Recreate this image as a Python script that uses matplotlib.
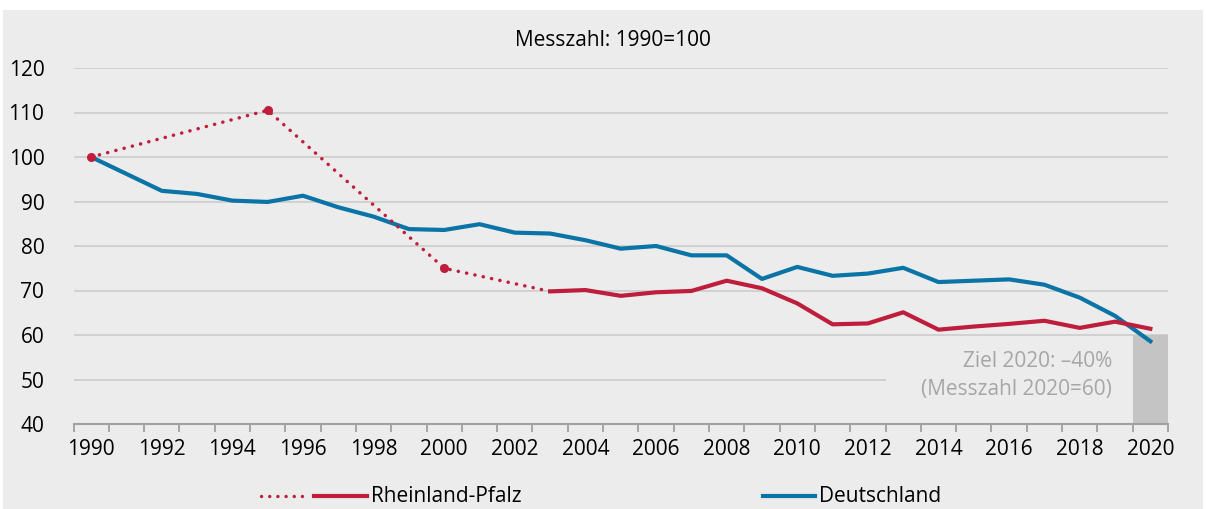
import matplotlib
matplotlib.use('Agg')
import matplotlib.pyplot as plt
from matplotlib.lines import Line2D
from matplotlib.patches import Rectangle

# Data (Messzahl 1990 = 100)
years = list(range(1990, 2021))
deutschland = [100.0, 96.2, 92.4, 91.7, 90.2, 89.9, 91.3, 88.7, 86.6, 83.8,
               83.6, 84.9, 83.0, 82.8, 81.3, 79.4, 80.0, 77.9, 77.9, 72.6,
               75.3, 73.3, 73.8, 75.1, 71.9, 72.2, 72.5, 71.3, 68.4, 64.3,
               58.6]
rlp_years = list(range(2003, 2021))
rlp = [69.8, 70.1, 68.8, 69.6, 69.9, 72.2, 70.5, 67.1, 62.4, 62.6,
       65.1, 61.2, 61.9, 62.5, 63.2, 61.6, 63.0, 61.4]
rlp_early_years = [1990, 1995, 2000, 2003]
rlp_early = [100.0, 110.5, 75.0, 69.8]
marker_years = [1990, 1995, 2000]
marker_vals = [100.0, 110.5, 75.0]
target_year = 2020
target_value = 60
y_floor = 40

red = '#be1e3c'
blue = '#0a74a6'
bg = '#ececec'
txt_gray = '#a6a6a6'
fs = 15
dotted = (0, (0.05, 2.4))

plt.rcParams['font.family'] = ['Open Sans', 'DejaVu Sans']

fig = plt.figure(figsize=(12.06, 5.09), dpi=100)
fig.patch.set_facecolor('white')
fig.add_artist(Rectangle((3 / 1206, 0), 1200 / 1206, 1 - 10 / 509,
                         transform=fig.transFigure, facecolor=bg,
                         edgecolor='none', zorder=-10))

ax = fig.add_axes([73.5 / 1206, 1 - 424 / 509, (1168 - 73.5) / 1206,
                   (424 - 68) / 509])
ax.set_facecolor(bg)

# target bar
ax.bar([target_year], [target_value - y_floor], bottom=y_floor, width=1.0,
       color='#c4c4c4', zorder=1)
# box hiding gridline behind text
ax.add_patch(Rectangle((2012.5, 41), 7.0, 17, facecolor=bg,
                       edgecolor='none', zorder=1.5))

ax.plot(years, deutschland, color=blue, lw=3.0, solid_joinstyle='round',
        zorder=3)
ax.plot(rlp_early_years, rlp_early, color=red, lw=2.5,
        linestyle=dotted, dash_capstyle='round', zorder=4)
ax.plot(marker_years, marker_vals, 'o', color=red, ms=5.5, zorder=5)
ax.plot(rlp_years, rlp, color=red, lw=3.0, solid_joinstyle='round',
        zorder=4)

ax.text(2018.92, 54.0, 'Ziel 2020: \u201340%', ha='right', va='center',
        color=txt_gray, fontsize=fs, zorder=6)
ax.text(2018.92, 47.7, '(Messzahl 2020=60)', ha='right', va='center',
        color=txt_gray, fontsize=fs, zorder=6)

ax.set_xlim(1989.5, 2020.5)
ax.set_ylim(40, 120)
ax.set_yticks(range(40, 121, 10))
ax.yaxis.grid(True, color='#cccccc', lw=1.2)
ax.set_axisbelow(True)
ax.tick_params(axis='y', length=0, pad=21, labelsize=fs)
ax.set_xticks(range(1990, 2021, 2))
ax.set_xticks([y - 0.5 for y in range(1990, 2022)], minor=True)
ax.tick_params(axis='x', which='major', length=0, pad=11, labelsize=fs)
ax.tick_params(axis='x', which='minor', length=6, width=1.3,
               color='#a0a0a0')
for s in ['top', 'right', 'left']:
    ax.spines[s].set_visible(False)
ax.spines['bottom'].set_color('#a0a0a0')
ax.spines['bottom'].set_linewidth(1.5)
ax.spines['bottom'].set_zorder(6)

fig.text(613 / 1206, 1 - 40 / 509, 'Messzahl: 1990=100', ha='center',
         va='center', fontsize=fs)

# legend
ly = 1 - 496 / 509
fig.add_artist(Line2D([261 / 1206, 302 / 1206], [ly, ly], color=red, lw=2.4,
                      linestyle=(0, (0.05, 2.4)), dash_capstyle='round',
                      transform=fig.transFigure))
fig.add_artist(Line2D([314 / 1206, 367 / 1206], [ly, ly], color=red, lw=3.0,
                      transform=fig.transFigure))
fig.text(371 / 1206, ly, 'Rheinland-Pfalz', ha='left', va='center',
         fontsize=fs)
fig.add_artist(Line2D([763 / 1206, 815 / 1206], [ly, ly], color=blue, lw=3.0,
                      transform=fig.transFigure))
fig.text(819 / 1206, ly, 'Deutschland', ha='left', va='center',
         fontsize=fs)

plt.savefig('out.png', dpi=100)
